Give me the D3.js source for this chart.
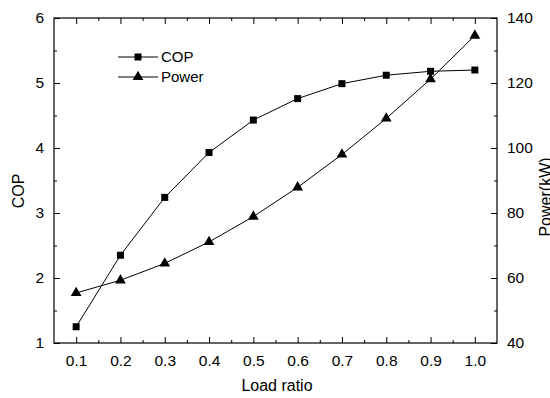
<!DOCTYPE html>
<html><head><meta charset="utf-8">
<script src="https://cdn.jsdelivr.net/npm/d3@7"></script>
<style>body{margin:0;background:#fff}svg{display:block}text{font-family:"Liberation Sans",Arial,sans-serif;fill:#000}</style>
</head><body><svg id="c" width="550" height="398"></svg>
<script>
const loadRatio = [0.1,0.2,0.3,0.4,0.5,0.6,0.7,0.8,0.9,1.0];
const copValues = [1.25,2.35,3.24,3.93,4.43,4.76,4.99,5.12,5.18,5.2];
const powerValues = [55.4,59.3,64.5,71.1,78.9,87.9,98.0,109.1,121.2,134.6];
const xTicks = [0.1,0.2,0.3,0.4,0.5,0.6,0.7,0.8,0.9,1.0];
const yLeftTicks = [1,2,3,4,5,6];
const yRightTicks = [40,60,80,100,120,140];

const svg = d3.select("#c");
const L=54,R=497,T=18,B=343;
const x = d3.scaleLinear().domain([0.05,1.05]).range([L,R]);
const yl = d3.scaleLinear().domain([1,6]).range([B,T]);
const yr = d3.scaleLinear().domain([40,140]).range([B,T]);
const fs = 15.5, fsT = 16;

svg.append("rect").attr("x",L).attr("y",T).attr("width",R-L).attr("height",B-T)
  .attr("fill","none").attr("stroke","#000").attr("stroke-width",1.2);

const minorX = d3.range(0.15,1.05,0.1);
function axisStyle(g){g.select(".domain").remove();g.selectAll("line").attr("stroke","#000");}
function textStyle(g){g.selectAll("text").attr("font-size",fs).attr("font-family","Liberation Sans, Arial");}
svg.append("g").attr("transform",`translate(0,${B})`)
  .call(d3.axisBottom(x).tickValues(xTicks).tickFormat(d3.format(".1f")).tickSizeInner(-6).tickPadding(12))
  .call(axisStyle).call(textStyle);
svg.append("g").attr("transform",`translate(0,${B})`)
  .call(d3.axisBottom(x).tickValues(minorX).tickFormat("").tickSizeInner(-3)).call(axisStyle);
svg.append("g").attr("transform",`translate(0,${T})`)
  .call(d3.axisTop(x).tickValues(xTicks).tickFormat("").tickSizeInner(-6)).call(axisStyle);
svg.append("g").attr("transform",`translate(0,${T})`)
  .call(d3.axisTop(x).tickValues(minorX).tickFormat("").tickSizeInner(-3)).call(axisStyle);
svg.append("g").attr("transform",`translate(${L},0)`)
  .call(d3.axisLeft(yl).tickValues(yLeftTicks).tickFormat(d3.format("d")).tickSizeInner(-6).tickPadding(10))
  .call(axisStyle).call(textStyle);
svg.append("g").attr("transform",`translate(${L},0)`)
  .call(d3.axisLeft(yl).tickValues([1.5,2.5,3.5,4.5,5.5]).tickFormat("").tickSizeInner(-3)).call(axisStyle);
svg.append("g").attr("transform",`translate(${R},0)`)
  .call(d3.axisRight(yr).tickValues(yRightTicks).tickFormat(d3.format("d")).tickSizeInner(-6).tickPadding(10))
  .call(axisStyle).call(textStyle);
svg.append("g").attr("transform",`translate(${R},0)`)
  .call(d3.axisRight(yr).tickValues([50,70,90,110,130]).tickFormat("").tickSizeInner(-3)).call(axisStyle);

svg.append("text").attr("x",277).attr("y",391).attr("text-anchor","middle").attr("font-size",fsT).text("Load ratio");
svg.append("text").attr("transform",`translate(24,191) rotate(-90)`).attr("text-anchor","middle").attr("font-size",fsT).text("COP");
svg.append("text").attr("transform",`translate(551,197) rotate(-90)`).attr("text-anchor","middle").attr("font-size",fsT).text("Power(kW)");

const lineCop = d3.line().x((d,i)=>x(loadRatio[i])).y(d=>yl(d));
const linePow = d3.line().x((d,i)=>x(loadRatio[i])).y(d=>yr(d));
svg.append("path").attr("d",lineCop(copValues)).attr("fill","none").attr("stroke","#000").attr("stroke-width",1);
svg.append("path").attr("d",linePow(powerValues)).attr("fill","none").attr("stroke","#000").attr("stroke-width",1);
const sq = d3.symbol().type(d3.symbolSquare).size(49);
const tri = d3.symbol().type(d3.symbolTriangle).size(50);
svg.selectAll(".sq").data(copValues).enter().append("path")
  .attr("d",sq).attr("transform",(d,i)=>`translate(${x(loadRatio[i])},${yl(d)})`).attr("fill","#000");
svg.selectAll(".tr").data(powerValues).enter().append("path")
  .attr("d",tri).attr("transform",(d,i)=>`translate(${x(loadRatio[i])},${yr(d)})`).attr("fill","#000");

const leg = [{name:"COP",sym:sq,y:57},{name:"Power",sym:tri,y:77}];
leg.forEach(l=>{
  svg.append("line").attr("x1",118).attr("x2",158).attr("y1",l.y).attr("y2",l.y).attr("stroke","#000");
  svg.append("path").attr("d",l.sym).attr("transform",`translate(138,${l.y})`).attr("fill","#000");
  svg.append("text").attr("x",161).attr("y",l.y+5).attr("font-size",15).text(l.name);
});
</script></body></html>
